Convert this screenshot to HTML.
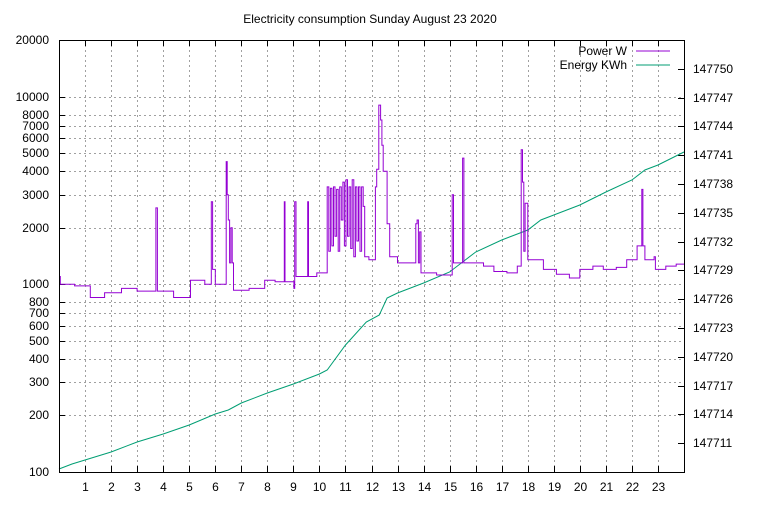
<!DOCTYPE html>
<html><head><style>
body{margin:0;background:#fff;}
svg text{font-family:"Liberation Sans",sans-serif;font-size:12px;fill:#000;}
</style></head><body>
<svg id="s" width="768" height="500" xmlns="http://www.w3.org/2000/svg">
<rect width="768" height="500" fill="#fff"/>
<g id="grid" stroke="#a0a0a0" stroke-width="1" stroke-dasharray="2,3"></g>
<g id="ticks" stroke="#000" stroke-width="1"></g>
<g id="labels"></g>
<path id="energy" fill="none" stroke="#009e73" stroke-width="1"/>
<path id="power" fill="none" stroke="#9400d3" stroke-width="1"/>
<rect x="59.5" y="40.5" width="625" height="432" fill="none" stroke="#000"/>
<text x="370" y="23" text-anchor="middle">Electricity consumption Sunday August 23 2020</text>
<text x="627" y="55" text-anchor="end">Power W</text>
<line x1="636" y1="51" x2="670" y2="51" stroke="#9400d3"/>
<text x="627" y="69" text-anchor="end">Energy KWh</text>
<line x1="636" y1="65" x2="670" y2="65" stroke="#009e73"/>
</svg>
<script>
const L=59,R=684,T=40,B=472;
const X=h=>L+h*(R-L)/24;
const Y=v=>B-(B-T)*Math.log10(v/100)/Math.log10(200);
const ns="http://www.w3.org/2000/svg";
function el(p,t,a,txt){const e=document.createElementNS(ns,t);for(const k in a)e.setAttribute(k,a[k]);if(txt)e.textContent=txt;document.getElementById(p).appendChild(e);}
const yt=[100,200,300,400,500,600,700,800,1000,2000,3000,4000,5000,6000,7000,8000,10000,20000];
for(const v of yt){
 const y=Math.round(Y(v))+.5;
 if(v>100&&v<20000)el("grid","line",{x1:L,x2:R,y1:y,y2:y});
 el("ticks","line",{x1:L,x2:L+6,y1:y,y2:y});
 el("labels","text",{x:L-10,y:Math.round(Y(v))+4,"text-anchor":"end"},String(v));
}
for(let h=1;h<24;h++){const x=Math.round(X(h))+.5;el("grid","line",{x1:x,x2:x,y1:T,y2:B});
 el("ticks","line",{x1:x,x2:x,y1:B,y2:B-6});el("ticks","line",{x1:x,x2:x,y1:T,y2:T+6});
 el("labels","text",{x:x,y:B+19,"text-anchor":"middle"},String(h));}
// right axis
const EY=e=>443.3-(e-147711)*9.605;
for(let e=147711;e<=147750;e+=3){const y=Math.round(EY(e))+.5;
 el("ticks","line",{x1:R,x2:R-6,y1:y,y2:y});
 el("labels","text",{x:R+9,y:Math.round(EY(e))+4},String(e));}
// energy curve (pixel points)
const ep=[[0,469],[0.5,464],[1,460],[2,452],[3,442],[4,434],[5,425],[6,414],[6.5,410],[7,403],[8,393],[9,384],[10,374],[10.3,370],[11,345],[11.8,322],[12.3,315],[12.6,298],[13,293],[14,283],[15,272],[16,252],[17,240],[18,230],[18.5,220],[19,215],[20,205],[21,192],[22,180],[22.5,170],[23,165],[24,152]];
document.getElementById("energy").setAttribute("d","M"+ep.map(p=>X(p[0]).toFixed(1)+","+p[1]).join("L"));
// power step data
let pw=[[0,1100],[0.05,1000],[0.6,980],[0.8,980],[1.2,850],[1.75,900],[2.4,950],[3.0,920],[3.72,2550],[3.78,920],[4.4,850],[5.05,1050],[5.6,1000],[5.85,2750],[5.9,1200],[6.0,1000],[6.42,4500],[6.46,3000],[6.5,2200],[6.55,1300],[6.6,2000],[6.65,1300],[6.7,930],[7.3,950],[7.9,1050],[8.3,1030],[8.65,2750],[8.68,1030],[9.02,950],[9.05,2750],[9.1,1100],[9.55,2750],[9.58,1100],[9.9,1150]];
let t=10.3;const seq=[3300,1500,3250,1600,3300,1800,3200,1500,3300,2200,3500,1600,3600,1800,3300,1550,3600,1400,3300,1700,3300,1500,3300,2600,1400];
for(const v of seq){pw.push([t,v]);t+=0.06;}
pw.push(...[[11.9,1350],[12.15,3300],[12.2,4100],[12.28,9000],[12.35,7500],[12.4,5500],[12.45,4000],[12.6,2100],[12.7,1400],[13,1300],[13.7,2100],[13.75,2200],[13.8,1300],[13.85,1900],[13.9,1150],[14.5,1120],[15.1,3000],[15.15,1300],[15.5,4700],[15.55,1300],[16.3,1250],[16.7,1170],[17.2,1150],[17.6,1250],[17.75,5200],[17.8,3500],[17.85,1500],[17.9,2700],[18,1350],[18.6,1200],[19.1,1130],[19.6,1080],[20,1200],[20.5,1250],[20.9,1200],[21.4,1230],[21.8,1350],[22.2,1600],[22.38,3200],[22.42,1600],[22.5,1350],[22.85,1400],[22.9,1200],[23.3,1250],[23.7,1280],[24,1280]]);
let d="";let prevY=null;
for(let i=0;i<pw.length;i++){const x=X(pw[i][0]).toFixed(1),y=Y(pw[i][1]).toFixed(1);
 if(i==0)d+="M"+x+","+y;else d+="L"+x+","+prevY+"L"+x+","+y;prevY=y;}
document.getElementById("power").setAttribute("d",d);
</script>
</body></html>
